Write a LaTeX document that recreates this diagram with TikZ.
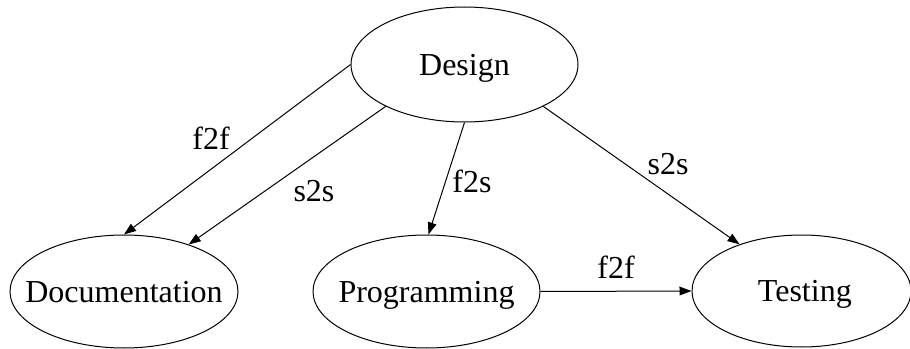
\documentclass[tikz,border=0pt]{standalone}
\usepackage{fontspec}
\setmainfont{Liberation Serif}
\usetikzlibrary{arrows.meta,shapes.geometric}
\tikzset{
  task/.style={draw=black, ellipse, line width=0.75pt, inner sep=0pt,
    font=\rmfamily\fontsize{24pt}{28pt}\selectfont, text depth=0pt},
  elabel/.style={inner sep=0pt, font=\rmfamily\fontsize{24pt}{28pt}\selectfont},
  flow/.style={draw=black, line width=0.75pt, -{Triangle[length=9pt,width=6.5pt]}}
}
\begin{document}
\begin{tikzpicture}[x=0.75pt,y=-0.75pt]
\useasboundingbox (0,0) rectangle (910,349);
\node[task, minimum width=170.25pt, minimum height=86.25pt] (design) at (464.5,64.5) {\makebox[0pt]{Design}};
\node[task, minimum width=171pt, minimum height=84.75pt] (doc) at (124,291.5) {\makebox[0pt]{Documentation}};
\node[task, minimum width=170.25pt, minimum height=84.75pt] (prog) at (426.5,291.5) {\makebox[0pt]{Programming}};
\node[task, minimum width=164.25pt, minimum height=84pt] (test) at (801.5,291) {\makebox[0pt]{\hspace*{5pt}Testing}};

\draw[flow] (design.180) -- (doc.90);
\draw[flow] (design.208) -- (doc.36);
\draw[flow] (design.270) -- (prog.88);
\draw[flow] (design.332) -- (test.143);
\draw[flow] (prog.0) -- (test.180);

\node[elabel] (l1) at (211,138) {f2f};
\node[elabel] (l2) at (314,191) {s2s};
\node[elabel] (l3) at (472,181) {f2s};
\node[elabel] (l4) at (668,164) {s2s};
\node[elabel] (l5) at (616,267) {f2f};
\end{tikzpicture}
\end{document}
